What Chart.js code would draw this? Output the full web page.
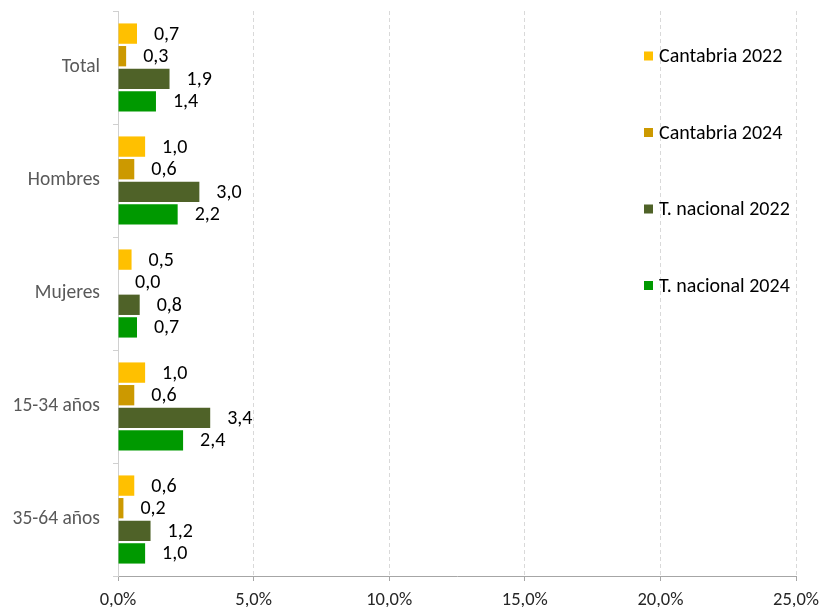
<!DOCTYPE html>
<html>
<head>
<meta charset="utf-8">
<script src="https://cdn.jsdelivr.net/npm/chart.js@4.4.0/dist/chart.umd.min.js"></script>
<style>
  body { margin: 0; background: #fff; }
  #wrap { width: 819px; height: 607px; }
</style>
</head>
<body>
<div id="wrap"><canvas id="chart" width="819" height="607"></canvas></div>
<script>
// categories and series
var categories = ['Total', 'Hombres', 'Mujeres', '15-34 años', '35-64 años'];
var seriesNames = ['Cantabria 2022', 'Cantabria 2024', 'T. nacional 2022', 'T. nacional 2024'];
var cantabria2022 = [0.7, 1.0, 0.5, 1.0, 0.6];
var cantabria2024 = [0.3, 0.6, 0.0, 0.6, 0.2];
var nacional2022 = [1.9, 3.0, 0.8, 3.4, 1.2];
var nacional2024 = [1.4, 2.2, 0.7, 2.4, 1.0];
var xTicks = [0, 5, 10, 15, 20, 25];

var colors = ['#FFC000', '#CC9900', '#4F6228', '#009900'];
var FONT = 'Carlito, Lato, sans-serif';

function fmt(v) {
  return v.toFixed(1).replace('.', ',');
}

// value labels to the right of each bar
const barLabels = {
  id: 'barLabels',
  afterDatasetsDraw(chart) {
    const ctx = chart.ctx;
    ctx.save();
    ctx.font = '20px ' + FONT;
    ctx.fillStyle = '#000';
    ctx.textAlign = 'left';
    ctx.textBaseline = 'middle';
    chart.data.datasets.forEach(function (ds, i) {
      const meta = chart.getDatasetMeta(i);
      meta.data.forEach(function (el, j) {
        ctx.fillText(fmt(ds.data[j]), el.x + 17, el.y + 1);
      });
    });
    ctx.restore();
  }
};

// legend laid over the plot, on the right
const sideLegend = {
  id: 'sideLegend',
  afterDraw(chart) {
    const ctx = chart.ctx;
    const area = chart.chartArea;
    ctx.save();
    ctx.font = '20px ' + FONT;
    ctx.textAlign = 'left';
    ctx.textBaseline = 'middle';
    chart.data.datasets.forEach(function (ds, i) {
      const y = area.top + 45 + i * 76.5;
      ctx.fillStyle = ds.backgroundColor;
      ctx.fillRect(644, y - 4.5, 9, 9);
      ctx.fillStyle = '#000';
      ctx.fillText(ds.label, 659, y + 1);
    });
    ctx.restore();
  }
};

const seriesData = [cantabria2022, cantabria2024, nacional2022, nacional2024];

const config = {
  type: 'bar',
  data: {
    labels: categories,
    datasets: seriesNames.map(function (name, i) {
      return {
        label: name,
        data: seriesData[i],
        backgroundColor: colors[i],
        borderWidth: 0,
        categoryPercentage: 0.8,
        barPercentage: 0.9
      };
    })
  },
  options: {
    indexAxis: 'y',
    responsive: false,
    animation: false,
    layout: { padding: { top: 11, right: 23, left: 0, bottom: 0 } },
    plugins: {
      legend: { display: false },
      tooltip: { enabled: false }
    },
    scales: {
      x: {
        min: 0,
        max: 25,
        afterBuildTicks: function (scale) {
          scale.ticks = xTicks.map(function (v) { return { value: v }; });
        },
        afterFit: function (scale) {
          scale.height = 31;
          scale.paddingLeft = 0;
          scale.paddingRight = 0;
        },
        grid: {
          color: '#d9d9d9',
          tickColor: '#a6a6a6',
          tickLength: 5,
          drawOnChartArea: true
        },
        border: { color: '#a6a6a6', dash: [4, 3] },
        ticks: {
          padding: 8,
          color: '#262626',
          font: { family: FONT, size: 18.5 },
          callback: function (v) { return fmt(v) + '%'; }
        }
      },
      y: {
        afterFit: function (scale) {
          scale.width = 118;
          scale.paddingTop = 0;
          scale.paddingBottom = 0;
        },
        grid: {
          drawOnChartArea: false,
          tickLength: 5,
          tickColor: '#d0d0d0'
        },
        border: { color: '#d0d0d0' },
        ticks: {
          padding: 13,
          color: '#595959',
          font: { family: FONT, size: 19.5 }
        }
      }
    }
  },
  plugins: [barLabels, sideLegend]
};

new Chart(document.getElementById('chart'), config);
</script>
</body>
</html>
